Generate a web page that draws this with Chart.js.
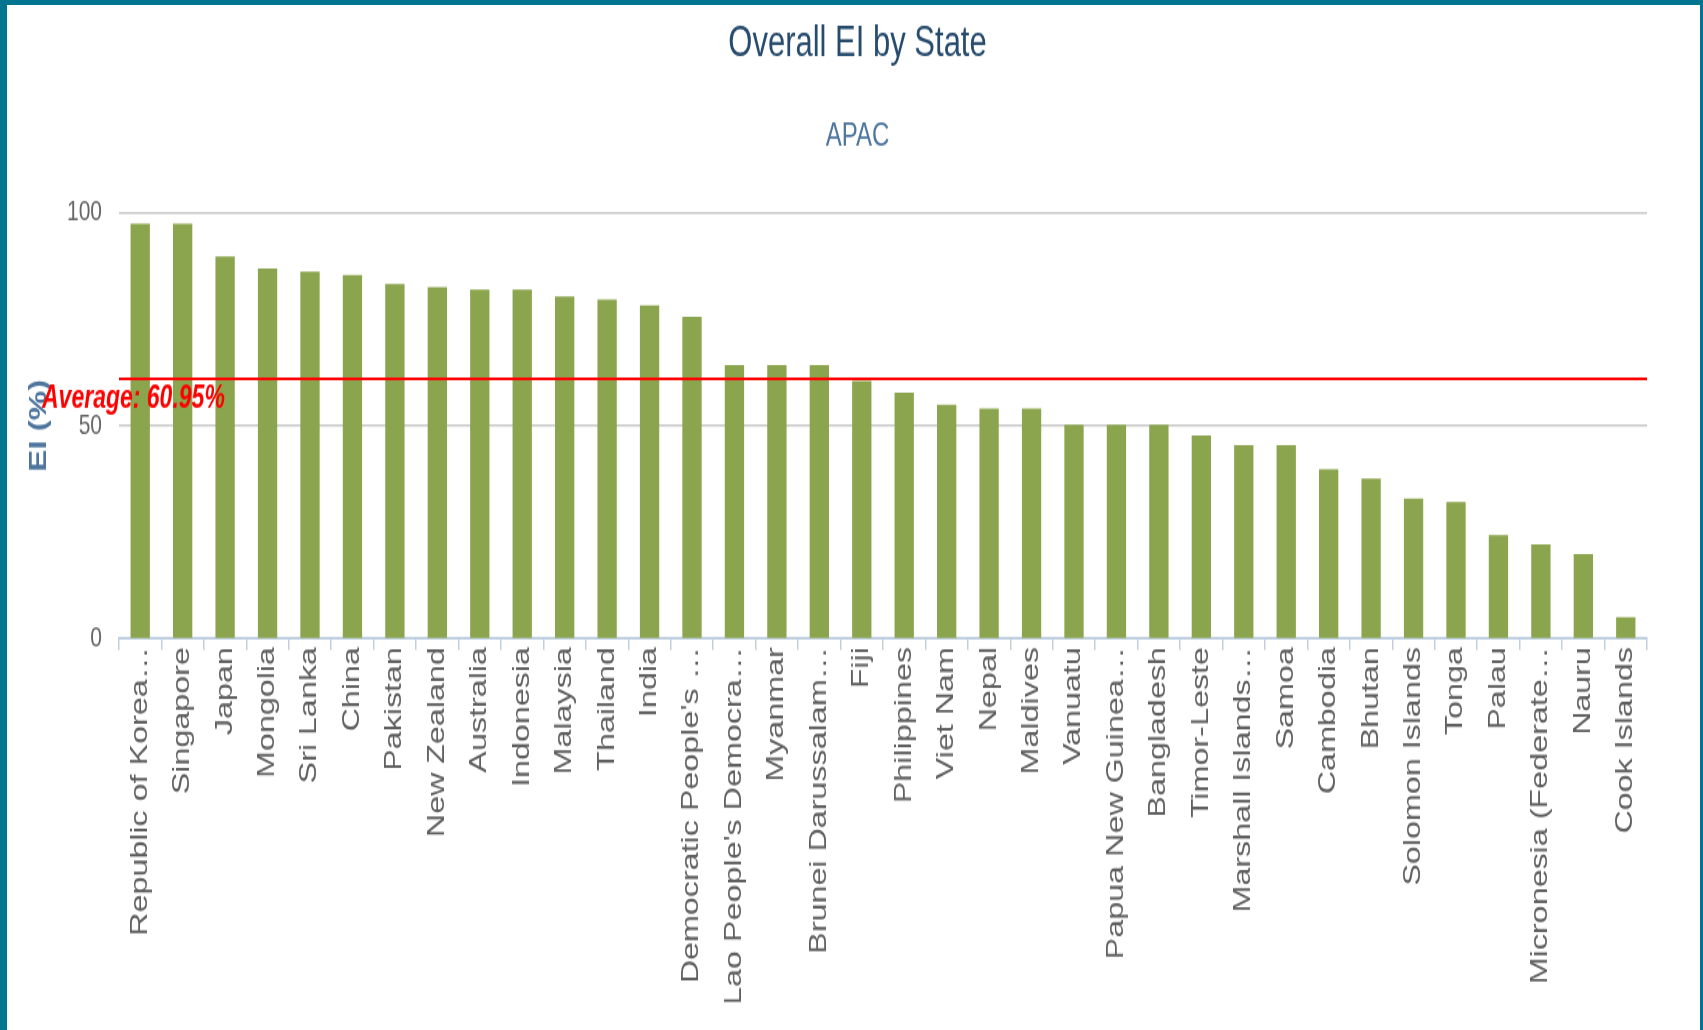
<!DOCTYPE html>
<html>
<head>
<meta charset="utf-8">
<title>Overall EI by State</title>
<script src="https://cdn.jsdelivr.net/npm/chart.js@4/dist/chart.umd.min.js"></script>
<style>
    html, body { margin: 0; padding: 0; background: #fff; overflow: hidden; }
    #frame {
        position: absolute; left: 0; top: 0;
        width: 1703px; height: 1030px;
        box-sizing: border-box;
        border-left: 7px solid #00758f;
        border-top: 5px solid #00758f;
        border-right: 3px solid #00758f;
        background: #fff;
    }
</style>
</head>
<body>
<!-- the source picture is stretched vertically, so the canvas is drawn short (743) and shown tall (1025) -->
<div id="frame"><canvas id="chart" width="1693" height="743" style="width:1693px;height:1025px"></canvas></div>
<script>
const countries = [
    'Republic of Korea…', 'Singapore', 'Japan', 'Mongolia', 'Sri Lanka', 'China',
    'Pakistan', 'New Zealand', 'Australia', 'Indonesia', 'Malaysia', 'Thailand',
    'India', "Democratic People's …", "Lao People's Democra…", 'Myanmar',
    'Brunei Darussalam…', 'Fiji', 'Philippines', 'Viet Nam', 'Nepal', 'Maldives',
    'Vanuatu', 'Papua New Guinea…', 'Bangladesh', 'Timor-Leste', 'Marshall Islands…',
    'Samoa', 'Cambodia', 'Bhutan', 'Solomon Islands', 'Tonga', 'Palau',
    'Micronesia (Federate…', 'Nauru', 'Cook Islands'
];
const eiValues = [
    97.4, 97.4, 89.7, 86.9, 86.1, 85.3,
    83.2, 82.5, 81.9, 81.9, 80.3, 79.6,
    78.2, 75.5, 64.2, 64.2,
    64.2, 60.5, 57.7, 54.9, 54.0, 54.0,
    50.2, 50.2, 50.2, 47.7, 45.4,
    45.4, 39.8, 37.6, 32.9, 32.1, 24.3,
    22.1, 19.9, 5.1
];
const yTicks = [0, 50, 100];
const averageValue = 60.95;
const averageLabel = 'Average: 60.95%';

const FONT = '"Liberation Sans", Arial, sans-serif';

// red average line across the plot, placed through the y scale
const averageLinePlugin = {
    id: 'averageLine',
    afterDatasetsDraw(chart) {
        const { ctx, chartArea, scales } = chart;
        const y = scales.y.getPixelForValue(averageValue);
        ctx.save();
        ctx.strokeStyle = '#ff0000';
        ctx.lineWidth = 2;
        ctx.beginPath();
        ctx.moveTo(chartArea.left, y);
        ctx.lineTo(chartArea.right, y);
        ctx.stroke();

        ctx.fillStyle = '#ff0000';
        ctx.font = 'italic bold 23px ' + FONT;
        ctx.textBaseline = 'middle';
        ctx.textAlign = 'left';
        ctx.fillText(averageLabel, chartArea.left - 77, y + 15);
        ctx.restore();
    }
};

const ctx = document.getElementById('chart').getContext('2d');
new Chart(ctx, {
    type: 'bar',
    data: {
        labels: countries,
        datasets: [{
            label: 'EI',
            data: eiValues,
            backgroundColor: '#8ba54e',
            borderWidth: 0,
            barPercentage: 0.455,
            categoryPercentage: 1
        }]
    },
    options: {
        responsive: false,
        devicePixelRatio: 1,
        animation: false,
        events: [],
        layout: {
            padding: { top: 0, left: 61, right: 53, bottom: 20.3 }
        },
        plugins: {
            legend: { display: false },
            tooltip: { enabled: false },
            title: {
                display: true,
                text: 'Overall EI by State',
                color: '#274b6d',
                font: { family: FONT, size: 31, weight: 'normal' },
                padding: { top: 9.7, bottom: 33.7 }
            },
            subtitle: {
                display: true,
                text: 'APAC',
                color: '#4d759e',
                font: { family: FONT, size: 24, weight: 'normal' },
                padding: { top: 0, bottom: 41 }
            }
        },
        scales: {
            x: {
                grid: {
                    drawOnChartArea: false,
                    color: '#c0d0e0',
                    lineWidth: 1.5,
                    tickLength: 8,
                    offset: true
                },
                border: { color: '#c0d0e0', width: 2 },
                ticks: {
                    autoSkip: false,
                    minRotation: 90,
                    maxRotation: 90,
                    padding: -2,
                    color: '#606060',
                    font: { family: FONT, size: 23.4 }
                }
            },
            y: {
                min: 0,
                max: 100,
                afterBuildTicks: scale => { scale.ticks = yTicks.map(value => ({ value })); },
                afterFit: scale => { scale.width = 51; },
                border: { display: false },
                grid: {
                    color: c => (c.tick && c.tick.value === 0 ? 'rgba(0,0,0,0)' : '#c8c8c8'),
                    lineWidth: 1.5,
                    drawTicks: false
                },
                ticks: {
                    padding: 17,
                    color: '#666666',
                    font: { family: FONT, size: 21 }
                },
                title: {
                    display: true,
                    text: 'EI (%)',
                    color: '#4d759e',
                    font: { family: FONT, size: 24, weight: 'bold' },
                    padding: { top: -42.9, bottom: 0 }
                }
            }
        }
    },
    plugins: [averageLinePlugin]
});
</script>
</body>
</html>
